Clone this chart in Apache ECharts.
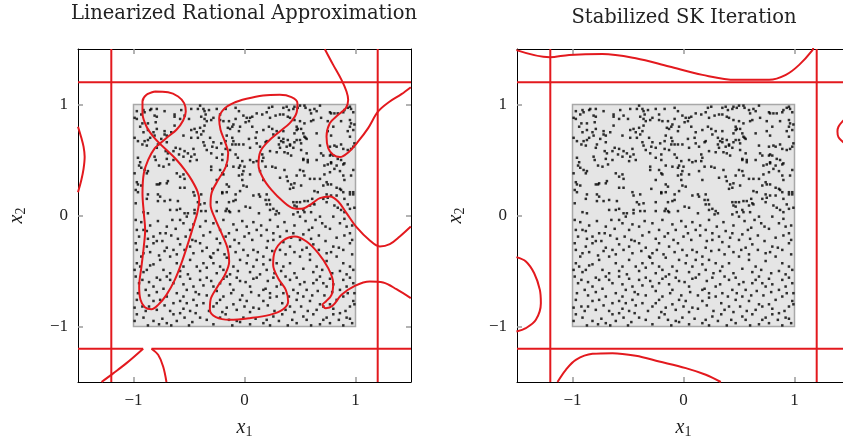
<!DOCTYPE html>
<html>
<head>
<meta charset="utf-8">
<script src="https://cdn.jsdelivr.net/npm/echarts@6/dist/echarts.min.js"></script>
<style>html,body{margin:0;padding:0;background:#fff;}#c{width:843px;height:438px;}</style>
</head>
<body>
<div id="c"></div>
<script>
// ---------- data ----------
const panelTitles = ['Linearized Rational Approximation', 'Stabilized SK Iteration'];
const axisExtent = [-1.5, 1.5];
const tickValues = [-1, 0, 1];
const squareBounds = [-1, 1];
const boundaryLevels = [-1.2, 1.2];

const samplePoints = [
[-0.97,0.94],[-0.91,0.95],[-0.90,0.93],[-0.85,0.95],[-0.84,0.96],[-0.79,0.96],[-0.72,0.94],[-0.63,0.91],[-0.63,0.89],[-0.57,0.95],
[-0.54,0.90],[-0.48,0.96],[-0.42,0.96],[-0.40,0.99],[-0.37,0.96],[-0.36,0.94],[-0.35,0.91],[-0.39,0.89],[-0.36,0.87],[-0.99,0.88],
[-0.97,0.87],[-0.93,0.91],[-0.87,0.83],[-0.80,0.84],[-0.79,0.89],[-0.81,0.90],[-0.92,0.83],[-0.94,0.80],[-0.63,0.81],[-0.58,0.87],
[-0.50,0.87],[-0.45,0.78],[-0.48,0.77],[-0.43,0.75],[-0.40,0.79],[-0.36,0.81],[-0.37,0.76],[-0.87,0.77],[-0.91,0.75],[-0.82,0.75],
[-0.79,0.78],[-0.72,0.73],[-0.70,0.72],[-0.66,0.75],[-0.72,0.76],[-0.55,0.72],[-0.48,0.70],[-0.42,0.70],[-0.39,0.73],[-0.85,0.70],
[-0.81,0.72],[-0.75,0.69],[-0.99,0.70],[-0.96,0.67],[-0.90,0.67],[-0.92,0.64],[-0.87,0.68],[-0.88,0.63],[-0.78,0.64],[-0.79,0.61],
[-0.70,0.66],[-0.58,0.60],[-0.62,0.61],[-0.64,0.58],[-0.54,0.58],[-0.51,0.56],[-0.46,0.60],[-0.48,0.53],[-0.49,0.49],[-0.45,0.55],
[-0.37,0.66],[-0.36,0.63],[-0.34,0.59],[-0.96,0.52],[-0.81,0.53],[-0.80,0.50],[-0.71,0.58],[-0.70,0.51],[-0.69,0.56],[-0.59,0.55],
[-0.55,0.53],[-0.43,0.50],[-0.94,0.48],[-0.95,0.45],[-0.93,0.43],[-0.90,0.41],[-0.87,0.40],[-0.88,0.38],[-0.99,0.38],[-0.77,0.45],
[-0.73,0.44],[-0.68,0.46],[-0.64,0.50],[-0.61,0.38],[-0.58,0.35],[-0.55,0.37],[-0.54,0.33],[-0.69,0.31],[-0.97,0.30],[-0.96,0.28],
[-0.93,0.27],[-0.98,0.23],[-0.79,0.28],[-0.77,0.28],[-0.76,0.29],[-0.70,0.29],[-0.96,0.21],[-0.87,0.19],[-0.78,0.19],[-0.76,0.17],
[-0.78,0.13],[-0.72,0.13],[-0.67,0.14],[-0.60,0.13],[-0.46,0.21],[-0.45,0.18],[-0.39,0.19],[-0.42,0.12],[-0.40,0.10],[-0.36,0.11],
[-0.58,0.25],[-0.54,0.25],[-0.88,0.15],[-0.91,0.03],[-0.87,0.02],[-0.98,0.11],[-0.67,0.05],[-0.58,0.06],[-0.61,0.05],[-0.54,0.02],
[-0.51,0.02],[-0.45,0.05],[-0.45,0.02],[-0.39,0.04],[-0.35,0.04],
[-0.32,0.95],[-0.25,0.96],[-0.22,0.91],[-0.17,0.96],[-0.08,0.97],[-0.05,0.94],[-0.01,0.90],[0.02,0.88],[0.04,0.85],[0.05,0.88],
[0.07,0.89],[0.11,0.92],[0.16,0.91],[0.20,0.93],[0.22,0.97],[0.25,0.98],[0.23,0.88],[0.28,0.90],[0.32,0.91],[-0.34,0.85],
[-0.30,0.86],[-0.28,0.88],[-0.22,0.86],[-0.19,0.85],[-0.14,0.85],[-0.15,0.79],[-0.13,0.78],[-0.11,0.80],[-0.10,0.82],[-0.08,0.87],
[-0.04,0.80],[-0.05,0.76],[0.01,0.84],[0.07,0.80],[0.11,0.75],[0.17,0.77],[0.22,0.80],[0.25,0.78],[0.29,0.76],[0.26,0.73],
[0.31,0.70],[0.33,0.67],[0.31,0.64],[0.32,0.61],[0.29,0.57],[0.23,0.58],[0.20,0.67],[0.19,0.66],[0.14,0.62],[0.11,0.65],
[0.10,0.70],[0.04,0.69],[0.05,0.61],[-0.31,0.70],[-0.28,0.66],[-0.29,0.62],[-0.30,0.56],[-0.25,0.61],[-0.21,0.65],[-0.17,0.67],
[-0.16,0.72],[-0.11,0.70],[-0.10,0.67],[-0.11,0.64],[-0.13,0.59],[-0.08,0.64],[-0.05,0.64],[-0.01,0.64],[-0.08,0.55],[-0.06,0.52],
[-0.20,0.55],[-0.20,0.50],[-0.25,0.52],[-0.17,0.60],[0.16,0.55],[0.17,0.52],[0.16,0.49],[0.11,0.49],[0.08,0.48],[0.05,0.50],
[-0.02,0.49],[0.00,0.44],[-0.04,0.45],[-0.05,0.43],[-0.10,0.44],[-0.16,0.45],[-0.30,0.44],[-0.30,0.41],[-0.22,0.41],[-0.20,0.38],
[-0.19,0.37],[-0.05,0.36],[-0.02,0.37],[-0.01,0.40],[0.05,0.37],[0.19,0.44],[0.25,0.44],[0.28,0.43],[0.14,0.40],[0.17,0.32],
[0.32,0.34],[-0.25,0.32],[-0.16,0.28],[-0.14,0.26],[-0.20,0.21],[-0.20,0.20],[-0.16,0.21],[-0.02,0.32],[-0.01,0.27],[0.02,0.26],
[-0.04,0.22],[0.08,0.18],[0.13,0.19],[0.14,0.17],[0.20,0.19],[0.22,0.14],[0.20,0.10],[0.19,0.14],[-0.29,0.24],[-0.08,0.19],
[-0.10,0.13],[-0.08,0.14],[-0.14,0.12],[-0.25,0.12],[-0.25,0.04],[-0.17,0.04],[-0.16,0.06],[-0.14,0.04],[-0.13,0.03],[-0.05,0.04],
[0.01,0.08],[0.05,0.07],[0.13,0.02],[0.23,0.10],[0.23,0.05],[0.26,0.06],[0.29,0.04],[0.31,0.02],[0.28,0.01],
[0.35,0.97],[0.38,0.98],[0.40,0.95],[0.44,0.96],[0.45,0.98],[0.48,0.97],[0.50,0.99],[0.54,0.99],[0.55,0.97],[0.59,0.95],
[0.60,0.92],[0.63,0.96],[0.65,0.94],[0.68,0.99],[0.77,0.93],[0.78,0.92],[0.84,0.92],[0.89,0.93],[0.90,0.95],[0.93,0.97],
[0.95,0.98],[0.96,0.96],[0.98,0.93],[0.35,0.91],[0.39,0.89],[0.41,0.88],[0.45,0.86],[0.50,0.85],[0.54,0.83],[0.60,0.85],
[0.62,0.86],[0.69,0.88],[0.75,0.85],[0.81,0.92],[0.87,0.85],[0.95,0.86],[0.96,0.83],[0.99,0.82],[0.95,0.80],[0.98,0.77],
[0.93,0.76],[0.95,0.71],[0.47,0.80],[0.48,0.78],[0.47,0.77],[0.51,0.78],[0.45,0.74],[0.53,0.74],[0.54,0.71],[0.56,0.69],
[0.65,0.74],[0.75,0.76],[0.80,0.80],[0.35,0.76],[0.35,0.69],[0.35,0.66],[0.39,0.68],[0.41,0.64],[0.38,0.62],[0.41,0.63],
[0.44,0.61],[0.45,0.66],[0.47,0.68],[0.50,0.68],[0.51,0.65],[0.55,0.70],[0.78,0.72],[0.87,0.64],[0.89,0.60],[0.83,0.62],
[0.81,0.63],[0.77,0.62],[0.68,0.63],[0.93,0.59],[0.96,0.60],[0.99,0.65],[0.98,0.62],[0.36,0.57],[0.39,0.56],[0.42,0.54],
[0.51,0.59],[0.56,0.56],[0.69,0.56],[0.71,0.54],[0.77,0.54],[0.78,0.55],[0.80,0.54],[0.84,0.51],[0.78,0.48],[0.87,0.50],
[0.89,0.46],[0.90,0.47],[0.83,0.45],[0.78,0.47],[0.75,0.46],[0.72,0.45],[0.81,0.42],[0.86,0.40],[0.77,0.39],[0.89,0.36],
[0.90,0.32],[0.98,0.41],[0.96,0.36],[0.53,0.51],[0.53,0.50],[0.57,0.48],[0.57,0.50],[0.65,0.50],[0.50,0.41],[0.53,0.40],
[0.54,0.36],[0.47,0.36],[0.38,0.35],[0.36,0.41],[0.59,0.33],[0.63,0.33],[0.68,0.33],[0.72,0.37],[0.74,0.30],[0.71,0.27],
[0.63,0.22],[0.66,0.21],[0.75,0.28],[0.78,0.28],[0.83,0.25],[0.86,0.24],[0.87,0.23],[0.89,0.21],[0.95,0.21],[0.98,0.21],
[0.95,0.19],[0.98,0.19],[0.39,0.31],[0.42,0.28],[0.45,0.29],[0.44,0.25],[0.41,0.24],[0.51,0.27],[0.74,0.19],[0.75,0.16],
[0.78,0.18],[0.71,0.15],[0.83,0.18],[0.90,0.15],[0.44,0.12],[0.47,0.12],[0.50,0.12],[0.45,0.09],[0.47,0.08],[0.54,0.13],
[0.57,0.13],[0.61,0.15],[0.62,0.11],[0.63,0.10],[0.59,0.09],[0.53,0.05],[0.54,0.03],[0.48,0.03],[0.60,0.03],[0.74,0.12],
[0.81,0.09],[0.84,0.07],[0.87,0.05],[0.90,0.03],[0.93,0.10],[0.95,0.06],[0.99,0.07],[0.44,0.01],
[-0.98,-0.04],[-0.97,-0.13],[-0.91,-0.13],[-0.88,-0.14],[-0.82,-0.19],[-0.76,-0.16],[-0.71,-0.16],[-0.65,-0.04],[-0.58,-0.04],[-0.52,-0.01],
[-0.46,-0.08],[-0.40,-0.10],[-0.28,-0.07],[-0.22,-0.13],[-0.14,-0.16],[-0.07,-0.13],[0.02,-0.10],[0.04,-0.16],[0.11,-0.13],[0.20,-0.13],
[0.26,-0.16],[0.32,-0.19],[0.38,-0.14],[0.44,-0.16],[0.50,-0.01],[0.58,-0.13],[0.64,-0.04],[0.68,-0.01],[0.73,-0.10],[0.80,-0.01],
[0.86,-0.07],[0.92,-0.10],[0.95,-0.16],[0.97,-0.22],[-0.98,-0.25],[-0.97,-0.31],[-0.91,-0.34],[-0.88,-0.28],[-0.82,-0.25],[-0.74,-0.23],
[-0.70,-0.29],[-0.64,-0.31],[-0.58,-0.26],[-0.49,-0.28],[-0.44,-0.23],[-0.40,-0.25],[-0.34,-0.29],[-0.28,-0.34],[-0.22,-0.25],[-0.13,-0.28],
[-0.05,-0.25],[-0.01,-0.31],[0.08,-0.31],[0.20,-0.29],[0.26,-0.22],[0.32,-0.31],[0.41,-0.28],[0.50,-0.22],[0.56,-0.29],[0.62,-0.26],
[0.74,-0.34],[0.80,-0.28],[0.89,-0.31],[0.95,-0.25],[-0.97,-0.43],[-0.94,-0.46],[-0.88,-0.49],[-0.82,-0.44],[-0.76,-0.40],[-0.67,-0.37],
[-0.61,-0.43],[-0.55,-0.46],[-0.49,-0.40],[-0.43,-0.46],[-0.37,-0.43],[-0.31,-0.37],[-0.28,-0.43],[-0.22,-0.46],[-0.16,-0.38],[-0.10,-0.46],
[-0.04,-0.40],[0.02,-0.43],[0.08,-0.46],[0.11,-0.40],[0.17,-0.44],[0.23,-0.40],[0.29,-0.43],[0.35,-0.46],[0.41,-0.43],[0.50,-0.37],
[0.59,-0.40],[0.65,-0.46],[0.74,-0.41],[0.83,-0.37],[0.89,-0.43],[0.95,-0.46],[0.98,-0.49],[-0.98,-0.55],[-0.95,-0.61],[-0.89,-0.67],
[-0.82,-0.64],[-0.76,-0.58],[-0.70,-0.55],[-0.64,-0.61],[-0.58,-0.55],[-0.52,-0.67],[-0.46,-0.64],[-0.40,-0.58],[-0.34,-0.56],[-0.28,-0.64],
[-0.22,-0.61],[-0.16,-0.55],[-0.10,-0.67],[-0.04,-0.59],[0.05,-0.64],[0.11,-0.56],[0.17,-0.67],[0.23,-0.70],[0.29,-0.64],[0.37,-0.55],
[0.44,-0.67],[0.50,-0.62],[0.56,-0.67],[0.62,-0.61],[0.68,-0.55],[0.74,-0.64],[0.80,-0.62],[0.86,-0.67],[0.92,-0.64],[0.98,-0.61],
[0.99,-0.70],[-0.97,-0.76],[-0.92,-0.82],[-0.86,-0.82],[-0.82,-0.77],[-0.76,-0.76],[-0.70,-0.73],[-0.64,-0.79],[-0.58,-0.77],[-0.52,-0.79],
[-0.46,-0.76],[-0.41,-0.71],[-0.37,-0.79],[-0.28,-0.82],[-0.22,-0.76],[-0.16,-0.83],[-0.10,-0.80],[-0.04,-0.76],[0.02,-0.77],[0.08,-0.83],
[0.17,-0.77],[0.23,-0.74],[0.29,-0.73],[0.34,-0.79],[0.41,-0.82],[0.47,-0.76],[0.53,-0.73],[0.59,-0.77],[0.65,-0.85],[0.71,-0.82],
[0.77,-0.80],[0.83,-0.76],[0.89,-0.73],[0.95,-0.82],[0.98,-0.77],[-0.97,-0.89],[-0.91,-0.92],[-0.82,-0.95],[-0.77,-0.98],[-0.70,-0.97],
[-0.61,-0.95],[-0.47,-0.96],[-0.40,-0.92],[-0.28,-0.98],[-0.17,-0.89],[-0.14,-0.94],[-0.07,-0.95],[-0.01,-0.92],[0.05,-0.98],[0.17,-0.97],
[0.20,-0.94],[0.26,-0.91],[0.34,-0.89],[0.43,-0.94],[0.47,-0.97],[0.56,-0.94],[0.62,-0.89],[0.68,-0.98],[0.74,-0.92],[0.80,-0.89],
[0.85,-0.94],[0.92,-0.92],[0.97,-0.97],[0.86,-0.88],[-0.44,-0.88],[-0.58,-0.88],[-0.64,-0.89],
[-0.93,-0.06],[-0.85,-0.09],[-0.78,-0.05],[-0.70,-0.10],[-0.62,-0.12],[-0.55,-0.07],[-0.49,-0.13],[-0.35,-0.05],[-0.31,-0.15],[-0.19,-0.04],
[-0.10,-0.08],[-0.02,-0.05],[0.08,-0.06],[0.15,-0.09],[0.23,-0.04],[0.30,-0.10],[0.36,-0.06],[0.45,-0.09],[0.55,-0.05],[0.61,-0.11],
[0.70,-0.07],[0.77,-0.12],[0.90,-0.03],[0.97,-0.09],[-0.95,-0.19],[-0.87,-0.21],[-0.79,-0.23],[-0.66,-0.18],[-0.60,-0.21],[-0.53,-0.19],
[-0.47,-0.22],[-0.37,-0.18],[-0.25,-0.21],[-0.17,-0.19],[-0.09,-0.22],[0.00,-0.19],[0.07,-0.22],[0.15,-0.18],[0.21,-0.23],[0.35,-0.24],
[0.42,-0.20],[0.53,-0.17],[0.60,-0.21],[0.67,-0.18],[0.73,-0.23],[0.83,-0.20],[0.90,-0.18],[-0.93,-0.37],[-0.85,-0.33],[-0.77,-0.36],
[-0.72,-0.32],[-0.61,-0.35],[-0.54,-0.31],[-0.46,-0.34],[-0.38,-0.32],[-0.30,-0.38],[-0.24,-0.31],[-0.18,-0.35],[-0.08,-0.33],[0.03,-0.36],
[0.12,-0.33],[0.17,-0.37],[0.25,-0.32],[0.37,-0.35],[0.45,-0.33],[0.52,-0.31],[0.59,-0.35],[0.67,-0.31],[0.78,-0.33],[0.85,-0.29],
[0.97,-0.35],[-0.99,-0.49],[-0.91,-0.51],[-0.85,-0.45],[-0.73,-0.49],[-0.67,-0.52],[-0.58,-0.50],[-0.51,-0.53],[-0.40,-0.50],[-0.34,-0.47],
[-0.25,-0.52],[-0.19,-0.49],[-0.13,-0.53],[-0.06,-0.50],[0.05,-0.51],[0.14,-0.53],[0.20,-0.49],[0.27,-0.52],[0.33,-0.50],[0.45,-0.52],
[0.53,-0.48],[0.62,-0.51],[0.70,-0.49],[0.79,-0.52],[0.86,-0.50],[0.92,-0.53],[-0.92,-0.58],[-0.86,-0.60],[-0.79,-0.56],[-0.67,-0.58],
[-0.55,-0.62],[-0.49,-0.57],[-0.37,-0.63],[-0.30,-0.59],[-0.19,-0.57],[-0.13,-0.62],[-0.07,-0.56],[0.01,-0.60],[0.08,-0.57],[0.21,-0.59],
[0.26,-0.56],[0.33,-0.62],[0.41,-0.58],[0.47,-0.56],[0.54,-0.60],[0.65,-0.58],[0.71,-0.61],[0.77,-0.57],[0.89,-0.58],[0.95,-0.56],
[-0.96,-0.70],[-0.86,-0.72],[-0.79,-0.69],[-0.73,-0.66],[-0.61,-0.70],[-0.55,-0.73],[-0.44,-0.69],[-0.34,-0.72],[-0.25,-0.68],[-0.19,-0.73],
[-0.12,-0.70],[-0.02,-0.72],[0.06,-0.69],[0.13,-0.72],[0.19,-0.66],[0.35,-0.70],[0.40,-0.73],[0.48,-0.70],[0.61,-0.72],[0.66,-0.68],
[0.72,-0.72],[0.79,-0.69],[0.93,-0.70],[-0.99,-0.83],[-0.89,-0.86],[-0.79,-0.85],[-0.72,-0.81],[-0.67,-0.86],[-0.55,-0.84],[-0.49,-0.86],
[-0.43,-0.81],[-0.32,-0.86],[-0.25,-0.79],[-0.20,-0.87],[-0.07,-0.85],[0.00,-0.82],[0.05,-0.87],[0.13,-0.84],[0.21,-0.81],[0.27,-0.86],
[0.37,-0.85],[0.45,-0.87],[0.51,-0.82],[0.57,-0.86],[0.68,-0.80],[0.80,-0.84],[0.91,-0.86],[0.99,-0.80],[-0.99,-0.95],[-0.87,-0.99],
[-0.74,-0.93],[-0.66,-0.99],[-0.54,-0.92],[-0.50,-0.99],[-0.34,-0.94],[-0.22,-0.92],[-0.11,-0.99],[-0.04,-0.96],[0.10,-0.93],[0.23,-0.99],
[0.31,-0.95],[0.39,-0.99],[0.53,-0.91],[0.60,-0.99],[0.71,-0.94],[0.77,-0.97],[0.89,-0.99],[0.95,-0.93]
];

// Left panel (Linearized Rational Approximation) zero-level curves
const lraFigureEight = [
[-0.808,1.117],[-0.883,1.087],[-0.919,1.027],[-0.919,0.922],[-0.883,0.802],[-0.823,0.712],[-0.763,0.646],[-0.688,0.577],[-0.613,0.502],
[-0.538,0.411],[-0.477,0.321],[-0.423,0.216],[-0.408,0.141],[-0.426,0.021],[-0.462,-0.099],[-0.508,-0.249],[-0.568,-0.429],[-0.628,-0.580],
[-0.703,-0.715],[-0.778,-0.805],[-0.838,-0.844],[-0.898,-0.826],[-0.937,-0.760],[-0.949,-0.640],[-0.928,-0.459],[-0.907,-0.279],
[-0.895,-0.129],[-0.907,0.021],[-0.919,0.201],[-0.907,0.381],[-0.868,0.502],[-0.808,0.607],[-0.763,0.646],[-0.688,0.712],[-0.613,0.772],
[-0.553,0.856],[-0.529,0.937],[-0.544,1.012],[-0.598,1.072],[-0.688,1.111],[-0.808,1.117]
];
const lraLongCurve = [
[1.498,-0.099],[1.399,-0.189],[1.309,-0.258],[1.219,-0.279],[1.129,-0.225],[1.009,-0.105],[0.919,0.021],[0.844,0.126],[0.769,0.171],
[0.679,0.156],[0.604,0.105],[0.514,0.060],[0.438,0.066],[0.348,0.126],[0.243,0.231],[0.168,0.336],[0.126,0.456],[0.144,0.577],
[0.213,0.667],[0.318,0.757],[0.408,0.832],[0.468,0.922],[0.477,1.012],[0.423,1.066],[0.318,1.087],[0.168,1.081],[0.018,1.051],
[-0.102,1.012],[-0.186,0.958],[-0.228,0.877],[-0.216,0.772],[-0.177,0.667],[-0.147,0.562],[-0.168,0.441],[-0.237,0.321],[-0.297,0.201],
[-0.306,0.096],[-0.267,-0.024],[-0.207,-0.159],[-0.153,-0.294],[-0.138,-0.414],[-0.177,-0.535],[-0.252,-0.655],[-0.306,-0.760],
[-0.312,-0.850],[-0.258,-0.916],[-0.132,-0.940],[0.048,-0.925],[0.228,-0.895],[0.348,-0.844],[0.393,-0.775],[0.372,-0.670],
[0.303,-0.565],[0.258,-0.444],[0.273,-0.324],[0.348,-0.225],[0.453,-0.189],[0.559,-0.234],[0.664,-0.339],[0.754,-0.474],
[0.799,-0.610],[0.784,-0.715],[0.733,-0.775],[0.703,-0.805],[0.733,-0.835],[0.793,-0.814],[0.874,-0.715],[0.994,-0.634],
[1.129,-0.595],[1.249,-0.604],[1.369,-0.664],[1.498,-0.745]
];
const lraTopRight = [
[0.724,1.498],[0.799,1.357],[0.874,1.222],[0.919,1.117],[0.934,1.042],[0.913,0.967],[0.844,0.907],[0.769,0.832],[0.739,0.712],
[0.754,0.607],[0.799,0.547],[0.859,0.526],[0.934,0.568],[1.024,0.667],[1.114,0.787],[1.204,0.937],[1.309,1.027],[1.414,1.093],[1.498,1.156]
];
const lraLeftArc = [[-1.50,0.80],[-1.47,0.70],[-1.45,0.62],[-1.44,0.53],[-1.45,0.42],[-1.47,0.32],[-1.50,0.21]];
const lraBottomA = [[-1.288,-1.50],[-1.183,-1.422],[-1.063,-1.33],[-0.913,-1.20]];
const lraBottomB = [[-0.838,-1.20],[-0.778,-1.255],[-0.733,-1.36],[-0.703,-1.50]];
const lraGap = [-0.913, -0.838]; // break of the y=-1.2 line

// Right panel (Stabilized SK Iteration) zero-level curves
const skTop = [
[-1.505,1.49],[-1.204,1.426],[-1.03,1.447],[-0.73,1.456],[-0.43,1.417],[-0.129,1.342],[0.171,1.267],[0.471,1.222],
[0.772,1.222],[0.922,1.267],[1.042,1.357],[1.162,1.49],[1.17,1.52]
];
const skLeftArc = [
[-1.505,-0.375],[-1.42,-0.414],[-1.345,-0.52],[-1.294,-0.67],[-1.285,-0.79],[-1.33,-0.94],[-1.42,-1.015],[-1.505,-1.045]
];
const skBottom = [
[-1.135,-1.5],[-1.06,-1.39],[-0.97,-1.30],[-0.82,-1.246],[-0.64,-1.24],[-0.43,-1.264],[-0.219,-1.315],[0.021,-1.375],[0.201,-1.435],[0.336,-1.5]
];
const skRightArc = [[1.47,0.88],[1.432,0.847],[1.396,0.80],[1.387,0.757],[1.396,0.706],[1.432,0.667],[1.47,0.635]];

// ---------- chart ----------
const RED = '#e3191e';
const SERIF = '"Liberation Serif", "DejaVu Serif", serif';
const TITLE_FONT = '"DejaVu Serif", "Liberation Serif", serif';
const chart = echarts.init(document.getElementById('c'), null, {renderer: 'canvas'});

const grids = [
  {left: 78, top: 49, width: 333, height: 333, outerBoundsMode: 'none', containLabel: false},
  {left: 517, top: 49, width: 333, height: 333, outerBoundsMode: 'none', containLabel: false}
];
function fmt(v) { return v < 0 ? '\u2212' + Math.abs(v) : String(v); }

const xAxes = [], yAxes = [];
grids.forEach((g, gi) => {
  const common = {
    type: 'value', min: axisExtent[0], max: axisExtent[1], gridIndex: gi,
    splitLine: {show: false},
    axisLine: {show: true, onZero: false, lineStyle: {color: '#000', width: 1}},
    axisTick: {show: true, inside: true, length: 5, customValues: tickValues, lineStyle: {color: '#9a9a9a', width: 1.5}}
  };
  const nameRich = {
    i: {fontFamily: SERIF, fontStyle: 'italic', fontSize: 20, color: '#222'},
    s: {fontFamily: SERIF, fontSize: 14, color: '#222', padding: [8, 0, 0, 0]}
  };
  xAxes.push(Object.assign({}, common, {
    position: 'bottom',
    axisLabel: {show: true, customValues: tickValues, formatter: fmt, margin: 10, fontFamily: SERIF, fontSize: 17, color: '#222'},
    name: '{i|x}{s|1}', nameLocation: 'middle', nameGap: 35,
    nameTextStyle: {rich: nameRich}
  }));
  xAxes.push(Object.assign({}, common, {position: 'top', axisLabel: {show: false}}));
  yAxes.push(Object.assign({}, common, {
    position: 'left',
    axisLabel: {show: true, customValues: tickValues, formatter: fmt, margin: 10, fontFamily: SERIF, fontSize: 17, color: '#222'},
    name: '{i|x}{s|2}', nameLocation: 'middle', nameGap: 50, nameRotate: 90,
    nameTextStyle: {rich: nameRich}
  }));
  yAxes.push(Object.assign({}, common, {position: 'right', axisLabel: {show: false}}));
});

function redLine(gi, data, z) {
  return {
    type: 'line', xAxisIndex: gi * 2, yAxisIndex: gi * 2, data: data,
    showSymbol: false, symbol: 'none', smooth: 0.35, clip: true, silent: true,
    lineStyle: {color: RED, width: 2}, z: z || 5, animation: false
  };
}
function hLine(gi, level, from, to) { return redLine(gi, [[from, level], [to, level]]); }
function vLine(gi, level) { return redLine(gi, [[level, axisExtent[0]], [level, axisExtent[1]]]); }

const series = [];
grids.forEach((g, gi) => {
  // sampling square
  series.push({
    type: 'scatter', xAxisIndex: gi * 2, yAxisIndex: gi * 2, data: [], silent: true, z: 1,
    markArea: {
      silent: true,
      itemStyle: {color: '#e5e5e5', borderColor: '#a8a8a8', borderWidth: 1.5},
      data: [[{coord: [squareBounds[0], squareBounds[0]]}, {coord: [squareBounds[1], squareBounds[1]]}]]
    }
  });
  // sample points
  series.push({
    type: 'scatter', xAxisIndex: gi * 2, yAxisIndex: gi * 2, data: samplePoints,
    symbol: 'rect', symbolSize: 2.5, itemStyle: {color: '#000'}, silent: true, z: 3, animation: false
  });
});

// Left panel lines
boundaryLevels.forEach(l => series.push(vLine(0, l)));
series.push(hLine(0, boundaryLevels[1], axisExtent[0], axisExtent[1]));
series.push(hLine(0, boundaryLevels[0], axisExtent[0], lraGap[0]));
series.push(hLine(0, boundaryLevels[0], lraGap[1], axisExtent[1]));
[lraFigureEight, lraLongCurve, lraTopRight, lraLeftArc, lraBottomA, lraBottomB].forEach(c => series.push(redLine(0, c)));

// Right panel lines
boundaryLevels.forEach(l => series.push(vLine(1, l)));
boundaryLevels.forEach(l => series.push(hLine(1, l, axisExtent[0], axisExtent[1])));
[skTop, skLeftArc, skBottom, skRightArc].forEach(c => series.push(redLine(1, c)));

chart.setOption({
  animation: false,
  backgroundColor: '#fff',
  title: [
    {text: panelTitles[0], left: 239, top: -1, textAlign: 'center',
     textStyle: {fontFamily: TITLE_FONT, fontSize: 19.5, fontWeight: 'normal', color: '#222'}},
    {text: panelTitles[1], left: 679, top: 3, textAlign: 'center',
     textStyle: {fontFamily: TITLE_FONT, fontSize: 19.5, fontWeight: 'normal', color: '#222'}}
  ],
  grid: grids,
  xAxis: xAxes,
  yAxis: yAxes,
  series: series
});
</script>
</body>
</html>
